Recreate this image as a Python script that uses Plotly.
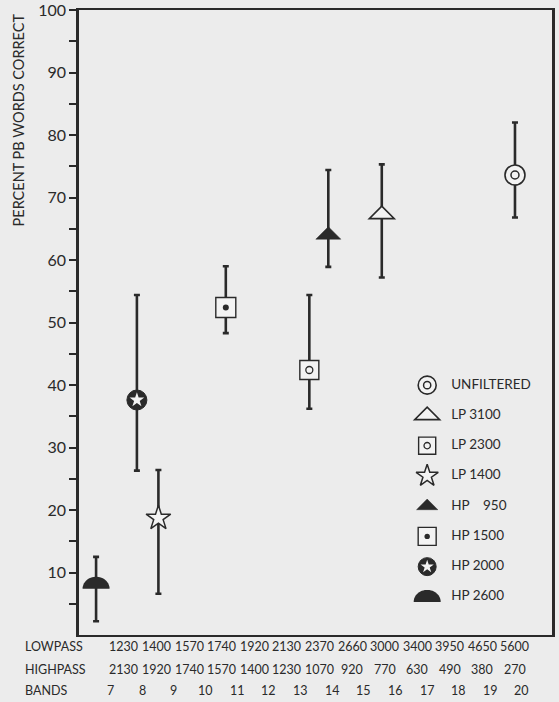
import numpy as np
import plotly.graph_objects as go

# ---------------- data ----------------
conditions = ["HP 2600", "HP 2000", "LP 1400", "HP 1500", "LP 2300", "HP 950", "LP 3100", "UNFILTERED"]
band_x = [6.54, 7.83, 8.51, 10.64, 13.28, 13.88, 15.57, 19.78]
pct = [7.4, 37.6, 18.7, 52.4, 42.4, 64.0, 67.3, 73.6]
pct_hi = [12.5, 54.4, 26.4, 59.0, 54.4, 74.4, 75.3, 82.0]
pct_lo = [2.2, 26.3, 6.6, 48.3, 36.2, 58.9, 57.2, 66.8]

legend_order = ["UNFILTERED", "LP 3100", "LP 2300", "LP 1400", "HP 950", "HP 1500", "HP 2000", "HP 2600"]
legend_text = ["UNFILTERED", "LP 3100", "LP 2300", "LP 1400", "HP\u00a0\u00a0\u00a0\u00a0950", "HP 1500", "HP 2000", "HP 2600"]

lowpass = [1230, 1400, 1570, 1740, 1920, 2130, 2370, 2660, 3000, 3400, 3950, 4650, 5600]
highpass = [2130, 1920, 1740, 1570, 1400, 1230, 1070, 920, 770, 630, 490, 380, 270]
bands = [7, 8, 9, 10, 11, 12, 13, 14, 15, 16, 17, 18, 19, 20]
row_titles = ["LOWPASS", "HIGHPASS", "BANDS"]
y_tick_vals = [5, 10, 15, 20, 25, 30, 35, 40, 45, 50, 55, 60, 65, 70, 75, 80, 85, 90, 95, 100]
y_tick_text = ["", "10", "", "20", "", "30", "", "40", "", "50", "", "60", "", "70", "", "80", "", "90", "", "100"]

# ---------------- style ----------------
INK = "#2a2a2a"
BG = "#ececec"
FILL = "#f3f3f3"
FONT = "Lato"

styles = {
    "UNFILTERED": [("circle", 20, FILL, INK, 1.6), ("circle-open", 8, INK, INK, 1.5)],
    "LP 3100": ("tri", FILL, 1.6),
    "LP 2300": [("square", 19, FILL, INK, 1.4), ("circle-open", 7, INK, INK, 1.3)],
    "LP 1400": [("star", 18.5, FILL, INK, 1.5)],
    "HP 950": ("tri", INK, 0.5),
    "HP 1500": [("square", 20, FILL, INK, 1.4), ("circle", 6, INK, INK, 0)],
    "HP 2000": [("circle", 20, INK, INK, 1.0), ("star", 11, FILL, FILL, 0)],
    "HP 2600": ("half", INK, 0),
}


def half_disc_path(rx, ry, dy, n=28):
    t = np.linspace(0, np.pi, n)
    pts = [(rx * np.cos(a), dy + ry * np.sin(a)) for a in t]
    return "M " + " L ".join(f"{x:.2f},{y:.2f}" for x, y in pts) + " Z"


def triangle_path(hw, top, bot):
    return f"M {-hw},{-bot} L {hw},{-bot} L 0,{top} Z"


def glyph_shape(kind, fill, lw, xref, yref, xa, ya, scale=1.0):
    if kind == "half":
        path = half_disc_path(13.5 * scale, 12 * scale, 0 if xref == "x" else -5)
    else:
        path = triangle_path(12.5 * scale, 8.3 * scale, 4.2 * scale)
    return dict(type="path", xref=xref, yref=yref, xsizemode="pixel", ysizemode="pixel",
                xanchor=xa, yanchor=ya, path=path, fillcolor=fill,
                line=dict(width=lw, color=INK), layer="above")


fig = go.Figure()
shapes = []

for i, name in enumerate(conditions):
    st = styles[name]
    err = dict(type="data", symmetric=False,
               array=[pct_hi[i] - pct[i]], arrayminus=[pct[i] - pct_lo[i]],
               color=INK, thickness=2.6, width=3)
    if isinstance(st, tuple):
        fig.add_trace(go.Scatter(x=[band_x[i]], y=[pct[i]], mode="markers",
                                 marker=dict(size=1, color="rgba(0,0,0,0)"),
                                 error_y=err, showlegend=False, hoverinfo="skip"))
        shapes.append(glyph_shape(st[0], st[1], st[2], "x", "y", band_x[i], pct[i]))
        continue
    for k, (sym, size, col, lcol, lw) in enumerate(st):
        fig.add_trace(go.Scatter(
            x=[band_x[i]], y=[pct[i]], mode="markers",
            marker=dict(symbol=sym, size=size, color=col, line=dict(color=lcol, width=lw)),
            error_y=err if k == 0 else None, showlegend=False, hoverinfo="skip"))

# legend drawn in its own small subplot
slots = list(range(len(legend_order)))
LEG_MX = 27
LEG_TX = 51
for j, name in enumerate(legend_order):
    st = styles[name]
    if isinstance(st, tuple):
        sc = 1.0 if st[0] == "half" else (1.0 if name == "LP 3100" else 0.85)
        shapes.append(glyph_shape(st[0], st[1], st[2], "x2", "y2", LEG_MX, j, sc))
        continue
    for (sym, size, col, lcol, lw) in st:
        fig.add_trace(go.Scatter(
            x=[LEG_MX], y=[j], xaxis="x2", yaxis="y2", mode="markers",
            marker=dict(symbol=sym, size=size * 0.9, color=col, line=dict(color=lcol, width=lw)),
            showlegend=False, hoverinfo="skip"))

fig.add_trace(go.Scatter(
    x=[LEG_TX] * len(slots), y=slots, xaxis="x2", yaxis="y2", mode="text",
    text=legend_text, textposition="middle right",
    textfont=dict(family=FONT, size=13.5, color=INK),
    showlegend=False, hoverinfo="skip"))

# bottom table
annotations = []
row_y = [-0.0176, -0.0544, -0.0896]
tfont = dict(family=FONT, size=12.5, color=INK)
for k, title in enumerate(row_titles):
    annotations.append(dict(text=title, xref="paper", yref="paper", x=-0.118, y=row_y[k],
                            xanchor="left", yanchor="middle", showarrow=False, font=tfont))
for i, v in enumerate(lowpass):
    annotations.append(dict(text=str(v), xref="x", yref="paper", x=7.42 + i * 1.03, y=row_y[0],
                            xanchor="center", yanchor="middle", showarrow=False, font=tfont))
for i, v in enumerate(highpass):
    annotations.append(dict(text=str(v), xref="x", yref="paper", x=7.42 + i * 1.03, y=row_y[1],
                            xanchor="center", yanchor="middle", showarrow=False, font=tfont))
for b in bands:
    annotations.append(dict(text=str(b), xref="x", yref="paper", x=b, y=row_y[2],
                            xanchor="center", yanchor="middle", showarrow=False, font=tfont))

annotations.append(dict(text="PERCENT PB WORDS CORRECT", xref="paper", yref="paper",
                        x=-0.128, y=0.824, textangle=-90, xanchor="center", yanchor="middle",
                        showarrow=False, font=dict(family=FONT, size=14.5, color=INK)))

fig.update_layout(
    width=559, height=702,
    margin=dict(l=79, r=7, t=10, b=67),
    paper_bgcolor=BG, plot_bgcolor=BG,
    showlegend=False,
    font=dict(family=FONT, color=INK),
    xaxis=dict(range=[6, 20.95], showticklabels=False, ticks="", showgrid=False, zeroline=False,
               showline=True, linecolor=INK, linewidth=2, mirror=True, fixedrange=True,
               automargin=False),
    yaxis=dict(range=[0, 100], tickmode="array", tickvals=y_tick_vals, ticktext=y_tick_text,
               ticks="outside", ticklen=7, tickwidth=1.5, tickcolor=INK,
               tickfont=dict(family=FONT, size=16, color=INK), ticklabeloverflow="allow",
               showgrid=False, zeroline=False, showline=True, linecolor=INK, linewidth=2.6,
               mirror=True, fixedrange=True, automargin=False),
    xaxis2=dict(domain=[0.679, 0.985], range=[0, 144.7], anchor="y2", visible=False, fixedrange=True),
    yaxis2=dict(domain=[0.0368, 0.424], range=[7.5, -0.5], anchor="x2", visible=False, fixedrange=True),
    shapes=shapes,
    annotations=annotations,
)

fig.write_html("out.html")
